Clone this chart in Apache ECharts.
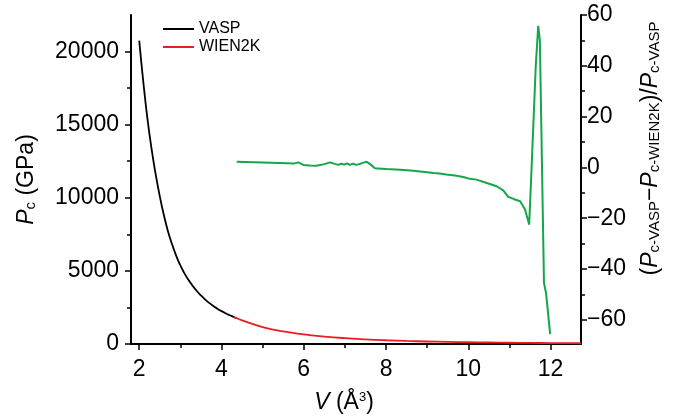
<!DOCTYPE html>
<html>
<head>
<meta charset="utf-8">
<script src="https://cdn.jsdelivr.net/npm/echarts@6/dist/echarts.min.js"></script>
<style>
  html, body { margin: 0; padding: 0; background: #fff; }
  #chart { width: 674px; height: 420px; }
</style>
</head>
<body>
<div id="chart"></div>
<script>
// cell volume (Å^3) vs critical pressure (GPa)
const vaspV = [2.0, 2.1, 2.2, 2.3, 2.4, 2.5, 2.6, 2.7, 2.8, 2.9, 3.0, 3.1, 3.2, 3.3, 3.4, 3.5, 3.6, 3.7, 3.8, 3.9, 4.0, 4.1, 4.2, 4.3, 4.37]
const vaspP = [20750, 17900, 15400, 13350, 11600, 10100, 8800, 7700, 6800, 6030, 5370, 4833, 4373, 3973, 3624, 3318, 3050, 2813, 2602, 2416, 2250, 2101, 1968, 1849, 1760]

const wienV = [4.3, 4.5, 5.0, 5.5, 6.0, 6.5, 7.0, 7.5, 8.0, 8.5, 9.0, 9.5, 10.0, 10.5, 11.0, 11.5, 12.0, 12.5, 12.74]
const wienP = [1849, 1620, 1160, 860, 655, 510, 400, 320, 258, 210, 172, 143, 120, 101, 86, 74, 64, 55, 52]

// relative difference (%) on the right axis
const diffV = [4.37, 4.8, 5.2, 5.6, 5.75, 5.87, 5.99, 6.15, 6.31, 6.5, 6.64, 6.75, 6.84, 6.92, 6.98, 7.05, 7.12, 7.2, 7.27, 7.35, 7.45, 7.53, 7.62, 7.73, 8.0, 8.34, 8.6, 8.83, 9.0, 9.15, 9.3, 9.47, 9.72, 9.9, 10.04, 10.2, 10.45, 10.69, 10.85, 10.97, 11.1, 11.26, 11.38, 11.48, 11.54, 11.64, 11.7, 11.74, 11.84, 11.89, 11.99]
const diffPct = [2.2, 2.0, 1.8, 1.6, 1.5, 2.0, 1.0, 0.8, 0.7, 1.3, 2.0, 1.4, 1.0, 1.5, 1.1, 1.6, 1.0, 1.5, 1.0, 1.3, 1.9, 2.2, 1.2, -0.3, -0.6, -0.9, -1.2, -1.6, -1.9, -2.2, -2.4, -2.8, -3.3, -3.9, -4.5, -4.8, -6.1, -7.4, -9.0, -11.6, -12.4, -13.3, -16.6, -22.5, 0.4, 39.9, 55.7, 50.0, -45.5, -49.4, -65.6]

const xLabelTicks = [2, 4, 6, 8, 10, 12]
const xMinorTicks = [3, 5, 7, 9, 11]
const leftLabelTicks = [0, 5000, 10000, 15000, 20000]
const leftMinorTicks = [2500, 7500, 12500, 17500]
const rightLabelTicks = [-60, -40, -20, 0, 20, 40, 60]
const rightMinorTicks = [-50, -30, -10, 10, 30, 50]

const FONT = 'Liberation Sans, Arial, sans-serif'
const axisLine = { show: true, onZero: false, lineStyle: { color: '#000', width: 2 } }
const mainText = { fontFamily: FONT, fontSize: 23, color: '#000', lineHeight: 23 }
const richName = {
  i: { fontFamily: FONT, fontSize: 23, fontStyle: 'italic', color: '#000', lineHeight: 23 },
  n: { fontFamily: FONT, fontSize: 23, color: '#000', lineHeight: 23 },
  sub: { fontFamily: FONT, fontSize: 15, color: '#000', lineHeight: 15, verticalAlign: 'bottom', padding: [10, 0, 0, 0] },
  sup: { fontFamily: FONT, fontSize: 13, color: '#000', lineHeight: 13, verticalAlign: 'top' },
}

function minorAxis(pos, min, max, ticks) {
  return {
    type: 'value', position: pos, min, max,
    axisLine: { show: false },
    axisLabel: { show: false },
    splitLine: { show: false },
    axisTick: { show: true, customValues: ticks, length: 4, lineStyle: { color: '#000', width: 1.5 } },
  }
}

const chart = echarts.init(document.getElementById('chart'))

chart.setOption({
  animation: false,
  grid: { left: 131, right: 93, top: 15, bottom: 76, outerBoundsMode: 'none' },
  legend: {
    data: ['VASP', 'WIEN2K'],
    orient: 'vertical',
    left: 163, top: 20, padding: 0,
    icon: 'rect',
    itemWidth: 31, itemHeight: 2, itemGap: 0,
    textStyle: { fontFamily: FONT, fontSize: 16, color: '#000', lineHeight: 18, padding: [0, 0, 0, 0] },
  },
  xAxis: [
    {
      type: 'value', position: 'bottom', min: 1.8, max: 12.74,
      axisLine,
      splitLine: { show: false },
      axisTick: { customValues: xLabelTicks, length: 6, lineStyle: { color: '#000', width: 1.5 } },
      axisLabel: { customValues: xLabelTicks, margin: 14, ...mainText },
      name: '{i|V}{n| (Å}{sup|3}{n|)}',
      nameLocation: 'middle',
      nameGap: 47,
      nameTextStyle: { rich: richName, padding: [0, 24, 0, 0] },
    },
    minorAxis('bottom', 1.8, 12.74, xMinorTicks),
  ],
  yAxis: [
    {
      type: 'value', position: 'left', min: 0, max: 22500,
      axisLine,
      splitLine: { show: false },
      axisTick: { customValues: leftLabelTicks, length: 6, lineStyle: { color: '#000', width: 1.5 } },
      axisLabel: { customValues: leftLabelTicks, margin: 12, ...mainText, formatter: (v) => String(v) },
      name: '{i|P}{sub|c}{n| (GPa)}',
      nameLocation: 'middle',
      nameRotate: 90,
      nameGap: 93,
      nameTextStyle: { rich: richName },
    },
    {
      type: 'value', position: 'right', min: -69.5, max: 60,
      axisLine,
      splitLine: { show: false },
      axisTick: { customValues: rightLabelTicks, length: 6, lineStyle: { color: '#000', width: 1.5 } },
      axisLabel: {
        customValues: rightLabelTicks, margin: 6, ...mainText,
        formatter: (v) => (v < 0 ? '\u2212' + Math.abs(v) : String(v)),
      },
      name: '{n|(}{i|P}{sub|c-VASP}{n|\u2212}{i|P}{sub|c-WIEN2K}{n|)/}{i|P}{sub|c-VASP}',
      nameLocation: 'middle',
      nameRotate: 90,
      nameGap: 56,
      nameTextStyle: { rich: richName, padding: [0, 0, 0, 62] },
    },
    minorAxis('left', 0, 22500, leftMinorTicks),
    minorAxis('right', -69.5, 60, rightMinorTicks),
  ],
  series: [
    {
      name: 'VASP', type: 'line', xAxisIndex: 0, yAxisIndex: 0,
      symbol: 'none', smooth: true, z: 3,
      data: vaspV.map((v, i) => [v, vaspP[i]]),
      lineStyle: { color: '#000', width: 1.8 },
      itemStyle: { color: '#000' },
    },
    {
      name: 'WIEN2K', type: 'line', xAxisIndex: 0, yAxisIndex: 0,
      symbol: 'none', smooth: true, z: 4,
      data: wienV.map((v, i) => [v, wienP[i]]),
      lineStyle: { color: '#ec1c24', width: 1.8 },
      itemStyle: { color: '#ec1c24' },
    },
    {
      name: 'diff', type: 'line', xAxisIndex: 0, yAxisIndex: 1,
      symbol: 'none',
      data: diffV.map((v, i) => [v, diffPct[i]]),
      lineStyle: { color: '#13a64b', width: 2 },
      itemStyle: { color: '#13a64b' },
    },
  ],
})
</script>
</body>
</html>
